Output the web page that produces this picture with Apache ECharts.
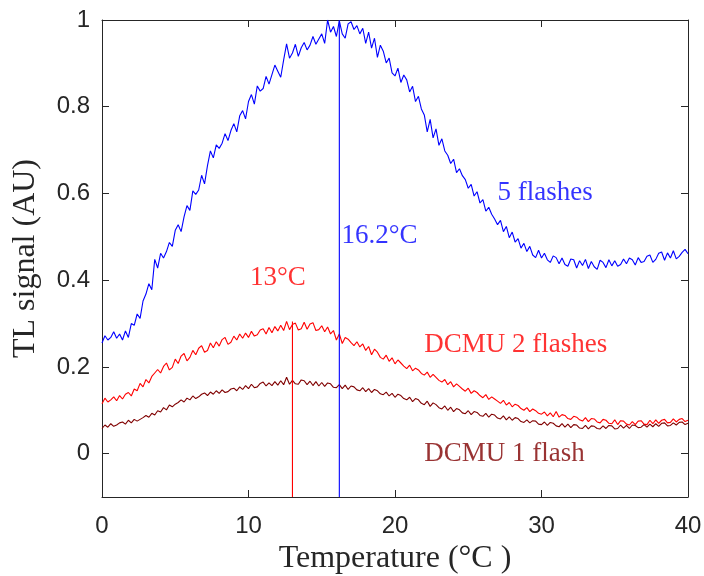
<!DOCTYPE html>
<html>
<head>
<meta charset="utf-8">
<script src="https://cdn.jsdelivr.net/npm/echarts@6/dist/echarts.min.js"></script>
<style>
  html, body { margin: 0; padding: 0; background: #fff; }
  #chart { width: 704px; height: 576px; }
</style>
</head>
<body>
<div id="chart"></div>
<script>
// Thermoluminescence glow curves, sampled every 0.2 °C from 0 to 40 °C
const TEMP_START = 0;
const TEMP_STEP = 0.2;

const flashes5 = [
  0.255,0.272,0.262,0.268,0.281,0.266,0.276,0.262,0.283,0.268,
  0.300,0.296,0.322,0.312,0.352,0.368,0.392,0.378,0.448,0.428,
  0.462,0.451,0.466,0.487,0.478,0.515,0.528,0.512,0.546,0.572,
  0.561,0.606,0.598,0.608,0.642,0.622,0.664,0.698,0.682,0.712,
  0.704,0.716,0.738,0.722,0.745,0.761,0.742,0.779,0.791,0.772,
  0.812,0.828,0.806,0.848,0.836,0.842,0.870,0.852,0.874,0.896,
  0.882,0.868,0.908,0.945,0.912,0.924,0.944,0.916,0.936,0.948,
  0.931,0.942,0.962,0.944,0.956,0.968,0.946,1.000,0.972,0.985,
  0.962,0.998,0.968,0.958,0.991,0.996,0.978,0.987,0.968,0.981,
  0.946,0.972,0.935,0.958,0.914,0.942,0.928,0.901,0.912,0.878,
  0.871,0.889,0.856,0.873,0.862,0.834,0.847,0.812,0.824,0.795,
  0.781,0.742,0.771,0.728,0.749,0.711,0.726,0.698,0.688,0.669,
  0.679,0.648,0.657,0.641,0.632,0.612,0.621,0.594,0.604,0.578,
  0.586,0.559,0.568,0.552,0.541,0.528,0.538,0.512,0.524,0.498,
  0.511,0.488,0.496,0.474,0.485,0.466,0.478,0.458,0.452,0.469,
  0.451,0.462,0.447,0.441,0.456,0.452,0.438,0.451,0.436,0.432,
  0.449,0.447,0.428,0.445,0.434,0.448,0.427,0.443,0.431,0.425,
  0.446,0.441,0.429,0.447,0.433,0.445,0.432,0.436,0.449,0.438,
  0.451,0.447,0.435,0.452,0.441,0.443,0.455,0.458,0.441,0.448,
  0.462,0.465,0.446,0.463,0.451,0.468,0.449,0.455,0.464,0.471,
  0.461
];

const dcmu2 = [
  0.115,0.128,0.119,0.124,0.131,0.122,0.134,0.126,0.137,0.141,
  0.133,0.149,0.145,0.162,0.154,0.171,0.163,0.178,0.186,0.194,
  0.186,0.201,0.209,0.193,0.199,0.218,0.208,0.225,0.231,0.214,
  0.222,0.238,0.228,0.243,0.249,0.234,0.238,0.255,0.244,0.258,
  0.248,0.263,0.268,0.252,0.257,0.271,0.262,0.276,0.266,0.278,
  0.268,0.282,0.271,0.274,0.285,0.288,0.276,0.291,0.279,0.293,
  0.283,0.296,0.284,0.305,0.286,0.298,0.301,0.285,0.288,0.303,
  0.287,0.299,0.302,0.284,0.286,0.295,0.281,0.292,0.276,0.284,
  0.262,0.276,0.254,0.268,0.264,0.256,0.249,0.258,0.246,0.253,
  0.238,0.247,0.228,0.241,0.234,0.222,0.218,0.227,0.213,0.221,
  0.207,0.216,0.209,0.202,0.196,0.204,0.191,0.197,0.193,0.185,
  0.181,0.188,0.176,0.183,0.176,0.169,0.165,0.171,0.159,0.166,
  0.154,0.161,0.155,0.149,0.144,0.151,0.139,0.145,0.141,0.134,
  0.129,0.136,0.125,0.131,0.126,0.121,0.116,0.123,0.112,0.118,
  0.108,0.114,0.111,0.104,0.100,0.106,0.097,0.103,0.099,0.093,
  0.091,0.096,0.087,0.094,0.085,0.097,0.084,0.090,0.088,0.081,
  0.079,0.086,0.084,0.078,0.075,0.083,0.074,0.081,0.080,0.073,
  0.071,0.079,0.077,0.070,0.069,0.078,0.067,0.076,0.075,0.068,
  0.066,0.074,0.067,0.075,0.076,0.068,0.067,0.077,0.069,0.078,
  0.070,0.077,0.079,0.071,0.072,0.080,0.073,0.079,0.081,0.074,
  0.077
];

const dcmu1 = [
  0.058,0.066,0.061,0.069,0.063,0.066,0.071,0.073,0.068,0.077,
  0.071,0.079,0.075,0.079,0.083,0.088,0.084,0.093,0.089,0.099,
  0.096,0.106,0.101,0.112,0.108,0.114,0.118,0.124,0.119,0.128,
  0.124,0.133,0.127,0.131,0.137,0.140,0.134,0.142,0.137,0.145,
  0.139,0.147,0.141,0.143,0.149,0.151,0.145,0.154,0.148,0.157,
  0.150,0.160,0.152,0.154,0.162,0.165,0.156,0.163,0.157,0.166,
  0.158,0.168,0.159,0.176,0.160,0.169,0.161,0.160,0.170,0.168,
  0.159,0.167,0.157,0.166,0.156,0.164,0.155,0.163,0.161,0.153,
  0.152,0.159,0.150,0.158,0.148,0.156,0.154,0.147,0.145,0.152,
  0.143,0.150,0.141,0.148,0.145,0.138,0.136,0.142,0.133,0.139,
  0.130,0.137,0.134,0.127,0.124,0.130,0.120,0.127,0.124,0.116,
  0.113,0.121,0.109,0.117,0.113,0.106,0.103,0.110,0.100,0.107,
  0.097,0.104,0.101,0.094,0.092,0.099,0.090,0.097,0.095,0.088,
  0.086,0.093,0.084,0.091,0.089,0.082,0.080,0.087,0.078,0.085,
  0.077,0.083,0.081,0.074,0.072,0.078,0.071,0.076,0.075,0.068,
  0.067,0.073,0.065,0.072,0.070,0.064,0.062,0.069,0.061,0.068,
  0.060,0.067,0.066,0.059,0.058,0.065,0.057,0.064,0.063,0.058,
  0.057,0.064,0.058,0.065,0.064,0.057,0.058,0.066,0.059,0.065,
  0.058,0.066,0.065,0.060,0.061,0.067,0.061,0.068,0.062,0.069,
  0.063,0.070,0.071,0.064,0.065,0.071,0.066,0.072,0.073,0.067,
  0.070
];

// Peak temperatures (°C) and the signal each marker line reaches
const peakTemps = [13, 16.2];
const peakTops = [0.305, 1.0];
const peakLabels = ['13°C', '16.2°C'];

const curveNames = ['5 flashes', 'DCMU 2 flashes', 'DCMU 1 flash'];
const yTicks = [0, 0.2, 0.4, 0.6, 0.8, 1];
const xTicks = [0, 10, 20, 30, 40];

const BLUE = '#0000ff', RED = '#ff0000', DARK = '#800000', INK = '#262626';
const SERIF = '"Liberation Serif", "Times New Roman", serif';
const SANS = '"Liberation Sans", Arial, sans-serif';
const Y_MIN = -0.1, Y_MAX = 1;

function pairs(values) {
  return values.map((v, i) => [+(TEMP_START + i * TEMP_STEP).toFixed(2), v]);
}

// Text placement in data units: left edge x, vertical centre y
const annotations = [
  { text: curveNames[0], x: 27.0, y: 0.602, color: BLUE },
  { text: peakLabels[1], x: 16.35, y: 0.503, color: BLUE },
  { text: peakLabels[0], x: 10.1, y: 0.405, color: RED },
  { text: curveNames[1], x: 22.0, y: 0.25, color: RED },
  { text: curveNames[2], x: 22.0, y: 0.0, color: DARK }
];

const axisLine = { show: true, onZero: false, lineStyle: { color: INK, width: 1 } };
const tickIn = { show: true, inside: true, length: 7, lineStyle: { color: INK, width: 1 } };

const chart = echarts.init(document.getElementById('chart'), null, { renderer: 'canvas' });

chart.setOption({
  animation: false,
  backgroundColor: '#fff',
  grid: { left: 102, right: 16, top: 20, bottom: 79, containLabel: false, outerBoundsMode: 'none' },
  xAxis: [
    {
      type: 'value', min: 0, max: 40, interval: 10, position: 'bottom',
      name: 'Temperature (°C )', nameLocation: 'middle', nameGap: 42,
      nameTextStyle: { fontFamily: SERIF, fontSize: 32, color: INK },
      axisLine, axisTick: tickIn, splitLine: { show: false },
      axisLabel: { fontFamily: SANS, fontSize: 24, color: INK, margin: 17 }
    },
    {
      type: 'value', min: 0, max: 40, interval: 10, position: 'top',
      axisLine, axisTick: tickIn, splitLine: { show: false },
      axisLabel: { show: false }
    }
  ],
  yAxis: [
    {
      type: 'value', min: Y_MIN, max: Y_MAX, position: 'left',
      name: 'TL signal (AU)', nameLocation: 'middle', nameGap: 60,
      nameTextStyle: { fontFamily: SERIF, fontSize: 32, color: INK },
      axisLine, splitLine: { show: false },
      axisTick: Object.assign({}, tickIn, { customValues: yTicks }),
      axisLabel: { fontFamily: SANS, fontSize: 24, color: INK, margin: 12,
        customValues: yTicks, formatter: v => String(+v.toFixed(2)) }
    },
    {
      type: 'value', min: Y_MIN, max: Y_MAX, position: 'right',
      axisLine, splitLine: { show: false },
      axisTick: Object.assign({}, tickIn, { customValues: yTicks }),
      axisLabel: { show: false }
    }
  ],
  series: [
    { name: curveNames[0], type: 'line', data: pairs(flashes5), showSymbol: false,
      color: BLUE, lineStyle: { color: BLUE, width: 1.1 }, z: 3 },
    { name: curveNames[1], type: 'line', data: pairs(dcmu2), showSymbol: false,
      color: RED, lineStyle: { color: RED, width: 1.1 }, z: 3 },
    { name: curveNames[2], type: 'line', data: pairs(dcmu1), showSymbol: false,
      color: DARK, lineStyle: { color: DARK, width: 1.1 }, z: 3 },
    { type: 'line', data: [[peakTemps[0], Y_MIN], [peakTemps[0], peakTops[0]]],
      showSymbol: false, color: RED, lineStyle: { color: RED, width: 1.1 }, z: 4 },
    { type: 'line', data: [[peakTemps[1], Y_MIN], [peakTemps[1], peakTops[1]]],
      showSymbol: false, color: BLUE, lineStyle: { color: BLUE, width: 1.1 }, z: 4 },
    {
      type: 'scatter', symbolSize: 0, z: 5, silent: true,
      data: annotations.map(a => ({
        value: [a.x, a.y],
        label: {
          show: true, position: 'right', distance: 0, formatter: a.text,
          fontFamily: SERIF, fontSize: 27, color: a.color
        }
      }))
    }
  ]
});
</script>
</body>
</html>
